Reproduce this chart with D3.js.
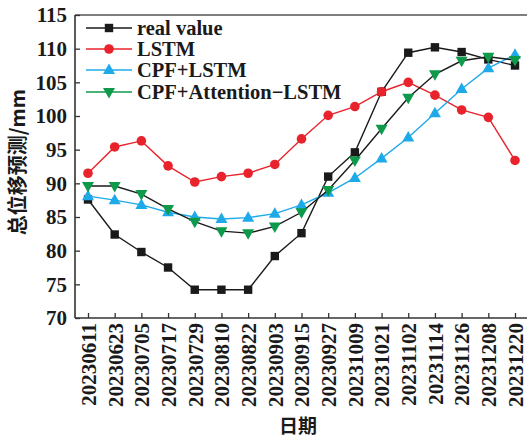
<!DOCTYPE html>
<html><head><meta charset="utf-8">
<script src="https://cdn.jsdelivr.net/npm/d3@7"></script>
<style>
html,body{margin:0;padding:0;background:#fff;}
svg{display:block;}
</style></head>
<body>
<svg id="c" width="527" height="439"></svg>
<script>
const categories = ["20230611","20230623","20230705","20230717","20230729","20230810","20230822","20230903","20230915","20230927","20231009","20231021","20231102","20231114","20231126","20231208","20231220"];
const realValue = [87.6,82.4,79.8,77.5,74.2,74.2,74.2,79.2,82.6,91.0,94.6,103.6,109.4,110.2,109.5,108.4,107.5];
const lstm = [91.5,95.4,96.3,92.6,90.2,91.0,91.5,92.8,96.6,100.1,101.4,103.6,105.0,103.1,100.9,99.8,93.4];
const cpfLstm = [88.1,87.5,86.8,85.7,85.0,84.7,84.9,85.5,86.8,88.6,90.8,93.7,96.8,100.4,104.0,107.1,109.1];
const cpfAttLstm = [89.6,89.6,88.4,86.2,84.3,82.9,82.6,83.6,85.7,89.0,93.4,98.1,102.7,106.2,108.2,108.8,108.3];
const yTicks = [70,75,80,85,90,95,100,105,110,115];
const seriesNames = ["real value","LSTM","CPF+LSTM","CPF+Attention\u2212LSTM"];

const series = [
  {name: seriesNames[0], values: realValue, color:"#1a1a1a", line:"#1a1a1a", marker:"square"},
  {name: seriesNames[1], values: lstm, color:"#e8232b", line:"#e8232b", marker:"circle"},
  {name: seriesNames[2], values: cpfLstm, color:"#1eaae9", line:"#1eaae9", marker:"up"},
  {name: seriesNames[3], values: cpfAttLstm, color:"#0d9a4b", line:"#1a1a1a", legendLine:"#0d9a4b", marker:"down"}
];

const svg = d3.select("#c");
const L = 75, R = 527, T = 15, B = 318;
const x = d3.scalePoint().domain(categories).range([88, 515]);
const y = d3.scaleLinear().domain([70,115]).range([B, T]);
const serif = "'Liberation Serif','Times New Roman',serif";

// frame
svg.append("line").attr("x1",L).attr("x2",R).attr("y1",T).attr("y2",T).attr("stroke","#555").attr("stroke-width",1.6);
svg.append("line").attr("x1",L).attr("x2",R).attr("y1",B).attr("y2",B).attr("stroke","#333").attr("stroke-width",1.6);
svg.append("line").attr("x1",L).attr("x2",L).attr("y1",T).attr("y2",B).attr("stroke","#333").attr("stroke-width",1.6);

// y axis
const yAxis = svg.append("g").attr("transform",`translate(${L},0)`)
  .call(d3.axisLeft(y).tickValues(yTicks).tickSize(-5).tickPadding(8));
yAxis.select(".domain").remove();
yAxis.selectAll(".tick line").attr("stroke","#333").attr("stroke-width",1.3);
yAxis.selectAll("text").attr("font-family",serif).attr("font-size",21).attr("font-weight","bold").attr("fill","#1a1a1a");

// x axis
const xAxis = svg.append("g").attr("transform",`translate(0,${B})`)
  .call(d3.axisBottom(x).tickSize(-5));
xAxis.select(".domain").remove();
xAxis.selectAll(".tick line").attr("stroke","#333").attr("stroke-width",1.3);
xAxis.selectAll("text")
  .attr("font-family",serif).attr("font-size",21).attr("font-weight","bold").attr("fill","#1a1a1a")
  .attr("text-anchor","end").attr("y",0).attr("dy","0.35em")
  .attr("transform","translate(0,5) rotate(-90)");

// axis titles
svg.append("text").text("日期").attr("x",298).attr("y",433)
  .attr("text-anchor","middle").attr("font-family","'Noto Sans CJK SC',sans-serif")
  .attr("font-size",19).attr("font-weight","bold").attr("fill","#1a1a1a");
svg.append("text").text("总位移预测/mm").attr("transform","translate(25,162) rotate(-90)")
  .attr("text-anchor","middle").attr("font-family","'Noto Sans CJK SC',sans-serif")
  .attr("font-size",20).attr("font-weight","bold").attr("fill","#1a1a1a");

function drawMarker(g, type, color){
  if(type==="square") g.append("rect").attr("x",-4.2).attr("y",-4.2).attr("width",8.4).attr("height",8.4).attr("fill",color);
  else if(type==="circle") g.append("circle").attr("r",4.8).attr("fill",color);
  else if(type==="up") g.append("path").attr("d","M0,-6.5L6,4L-6,4Z").attr("fill",color);
  else g.append("path").attr("d","M0,6.5L6,-4L-6,-4Z").attr("fill",color);
}

const line = d3.line().x((d,i)=>x(categories[i])).y(d=>y(d));
series.forEach(s=>{
  svg.append("path").attr("d",line(s.values)).attr("fill","none").attr("stroke",s.line).attr("stroke-width",1.4);
  s.values.forEach((v,i)=>{
    const g = svg.append("g").attr("transform",`translate(${x(categories[i])},${y(v)})`);
    drawMarker(g, s.marker, s.color);
  });
});

// legend
const legRows = [28,49,70,92];
series.forEach((s,i)=>{
  const g = svg.append("g").attr("transform",`translate(0,${legRows[i]})`);
  g.append("line").attr("x1",86).attr("x2",132).attr("y1",0).attr("y2",0).attr("stroke",s.legendLine||s.line).attr("stroke-width",1.4);
  const m = g.append("g").attr("transform","translate(109,0)");
  drawMarker(m, s.marker, s.color);
  g.append("text").text(s.name).attr("x",137).attr("y",0).attr("dy","0.33em")
    .attr("font-family",serif).attr("font-size",20.5).attr("font-weight","bold").attr("fill","#1a1a1a");
});
</script>
</body></html>
